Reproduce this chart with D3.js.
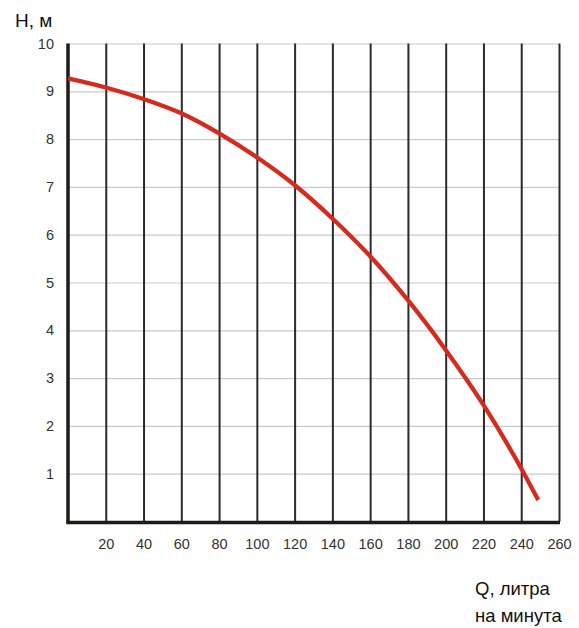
<!DOCTYPE html>
<html>
<head>
<meta charset="utf-8">
<script src="https://cdn.jsdelivr.net/npm/d3@7"></script>
<style>
  body { margin: 0; background: #fff; }
  svg { display: block; font-family: "Liberation Sans", Arial, sans-serif; }
  .grid-x .domain, .grid-y .domain { display: none; }
  .ticks-x .domain, .ticks-y .domain { display: none; }
</style>
</head>
<body>
<svg id="chart"></svg>
<script>
// Q, litres per minute / H, metres
const flow = [0, 20, 40, 60, 80, 100, 120, 140, 160, 180, 200, 220, 240, 249];
const head = [9.27, 9.08, 8.84, 8.54, 8.12, 7.62, 7.04, 6.34, 5.55, 4.63, 3.59, 2.44, 1.11, 0.45];

const xTicks = [20, 40, 60, 80, 100, 120, 140, 160, 180, 200, 220, 240, 260];
const yTicks = [1, 2, 3, 4, 5, 6, 7, 8, 9, 10];

const width = 579, height = 628;
const margin = {top: 43.5, right: 20, bottom: 106.5, left: 68};

const svg = d3.select('#chart')
    .attr('width', width)
    .attr('height', height);

const x = d3.scaleLinear().domain([0, 260]).range([margin.left, 559]);
const y = d3.scaleLinear().domain([0, 10]).range([height - margin.bottom, margin.top]);

// horizontal light grid
svg.append('g')
    .attr('class', 'grid-y')
    .attr('transform', `translate(${margin.left},0)`)
    .call(d3.axisLeft(y).tickValues(yTicks).tickSize(-(x(260) - margin.left)).tickFormat(''))
    .selectAll('line')
    .attr('stroke', '#c9c9c9')
    .attr('stroke-width', 1.2);

// vertical dark grid
svg.append('g')
    .attr('class', 'grid-x')
    .attr('transform', `translate(0,${y(0)})`)
    .call(d3.axisBottom(x).tickValues(xTicks).tickSize(-(y(0) - y(10))).tickFormat(''))
    .selectAll('line')
    .attr('stroke', '#2a2a2a')
    .attr('stroke-width', 2);

// thick axis lines
svg.append('line')
    .attr('x1', x(0)).attr('x2', x(0))
    .attr('y1', y(10)).attr('y2', y(0) + 2)
    .attr('stroke', '#1e1a18').attr('stroke-width', 3.5);
svg.append('line')
    .attr('x1', x(0) - 1.5).attr('x2', x(260) + 1)
    .attr('y1', y(0) + 1).attr('y2', y(0) + 1)
    .attr('stroke', '#1e1a18').attr('stroke-width', 3.5);

// tick labels
const xLab = svg.append('g')
    .attr('class', 'ticks-x')
    .attr('transform', `translate(0,${y(0) + 14})`)
    .call(d3.axisBottom(x).tickValues(xTicks).tickSize(0));
xLab.selectAll('text')
    .attr('fill', '#333')
    .style('font-size', '14.5px');

const yLab = svg.append('g')
    .attr('class', 'ticks-y')
    .attr('transform', `translate(${54},0)`)
    .call(d3.axisLeft(y).tickValues(yTicks).tickSize(0).tickPadding(0));
yLab.selectAll('text')
    .attr('fill', '#333')
    .style('font-size', '14.5px');

// pump curve
const points = flow.map((q, i) => [q, head[i]]);
svg.append('path')
    .datum(points)
    .attr('fill', 'none')
    .attr('stroke', '#d52b1e')
    .attr('stroke-width', 4.3)
    .attr('d', d3.line().x(d => x(d[0])).y(d => y(d[1])).curve(d3.curveMonotoneX));

// axis titles
svg.append('text')
    .attr('x', 15).attr('y', 27)
    .style('font-size', '19px')
    .attr('fill', '#111')
    .text('Н, м');

const qTitle = svg.append('text')
    .attr('x', 475).attr('y', 595)
    .style('font-size', '18.5px')
    .attr('fill', '#111');
qTitle.append('tspan').attr('x', 475).text('Q, литра');
qTitle.append('tspan').attr('x', 475).attr('dy', 27).text('на минута');
</script>
</body>
</html>
